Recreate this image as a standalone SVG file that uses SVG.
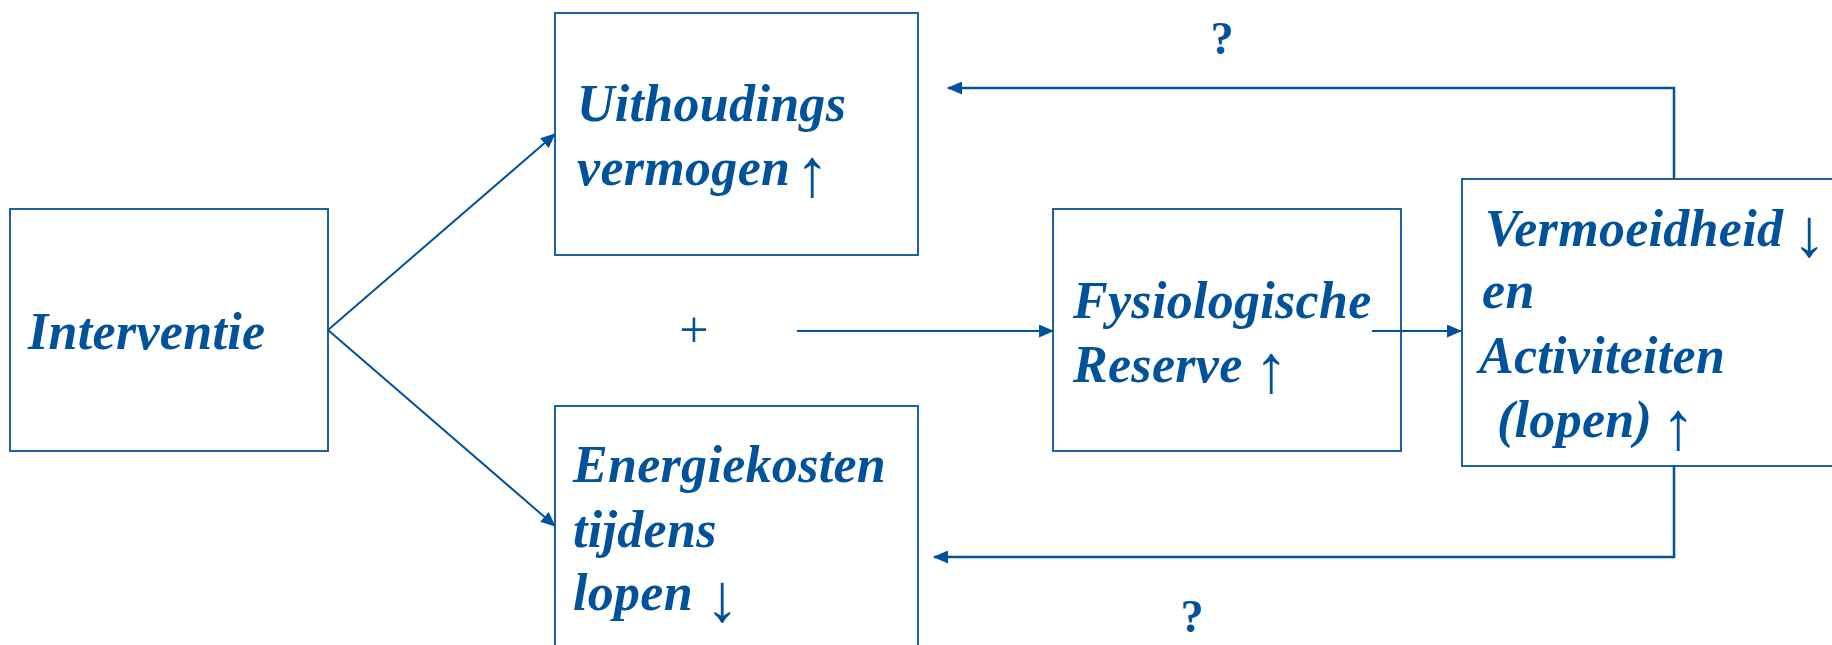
<svg xmlns="http://www.w3.org/2000/svg" width="1832" height="645" viewBox="0 0 1832 645">
  <style>
    .box { fill: #ffffff; stroke: #1f5fa6; stroke-width: 2; }
    .lbl { font-family: "Liberation Serif", "Times New Roman", serif; font-weight: bold; font-style: italic; font-size: 52px; fill: #00529b; letter-spacing: 0.3px; }
    .sym { font-family: "Liberation Serif", "Times New Roman", serif; font-weight: normal; font-style: normal; font-size: 52px; fill: #00529b; text-anchor: middle; }
    .arr { font-family: "Liberation Serif", "Times New Roman", serif; font-weight: normal; font-style: normal; font-size: 68px; fill: #00529b; text-anchor: middle; }
    .q { font-family: "Liberation Serif", "Times New Roman", serif; font-weight: bold; font-size: 46px; fill: #00529b; text-anchor: middle; }
    .link { fill: none; stroke: #00529b; stroke-width: 2; }
    .fb { fill: none; stroke: #00529b; stroke-width: 2.5; }
  </style>
  <defs>
    <marker id="head" viewBox="0 0 15 13" refX="14" refY="6.5" markerWidth="15" markerHeight="13" markerUnits="userSpaceOnUse" orient="auto">
      <path d="M0,0 L15,6.5 L0,13 Z" fill="#00529b"/>
    </marker>
  </defs>

  <rect width="1832" height="645" fill="#ffffff"/>

  <g id="node-interventie">
    <rect class="box" x="10" y="209" width="318" height="242"/>
    <text class="lbl" x="28" y="349">Interventie</text>
  </g>

  <g id="node-uithoudingsvermogen">
    <rect class="box" x="555" y="13" width="363" height="242"/>
    <text class="lbl" x="577" y="121">Uithoudings</text>
    <text class="lbl" x="577" y="185">vermogen</text>
    <text class="arr" x="812" y="196">↑</text>
  </g>

  <g id="node-energiekosten">
    <rect class="box" x="555" y="406" width="363" height="260"/>
    <text class="lbl" x="573" y="482">Energiekosten</text>
    <text class="lbl" x="573" y="547">tijdens</text>
    <text class="lbl" x="573" y="610">lopen</text>
    <text class="arr" x="722" y="621">↓</text>
  </g>

  <g id="node-plus">
    <text class="sym" x="694" y="347">+</text>
  </g>

  <g id="node-fysiologische-reserve">
    <rect class="box" x="1053" y="209" width="348" height="242"/>
    <text class="lbl" x="1073" y="318">Fysiologische</text>
    <text class="lbl" x="1073" y="382">Reserve</text>
    <text class="arr" x="1271" y="392">↑</text>
  </g>

  <g id="node-vermoeidheid">
    <rect class="box" x="1462" y="179" width="390" height="287"/>
    <text class="lbl" x="1485" y="246">Vermoeidheid</text>
    <text class="arr" x="1809" y="256">↓</text>
    <text class="lbl" x="1482" y="308">en</text>
    <text class="lbl" x="1479" y="373">Activiteiten</text>
    <text class="lbl" x="1497" y="437">(lopen)</text>
    <text class="arr" x="1678" y="449">↑</text>
  </g>

  <g id="connectors">
    <line class="link" x1="328" y1="330" x2="555" y2="134" marker-end="url(#head)"/>
    <line class="link" x1="328" y1="330" x2="555" y2="526" marker-end="url(#head)"/>
    <line class="link" x1="797" y1="331" x2="1053" y2="331" marker-end="url(#head)"/>
    <line class="link" x1="1372" y1="331" x2="1461" y2="331" marker-end="url(#head)"/>
    <polyline class="fb" points="1674,179 1674,88 948,88" marker-end="url(#head)"/>
    <polyline class="fb" points="1674,466 1674,557 934,557" marker-end="url(#head)"/>
    <text class="q" x="1222" y="54">?</text>
    <text class="q" x="1192" y="632">?</text>
  </g>
</svg>
